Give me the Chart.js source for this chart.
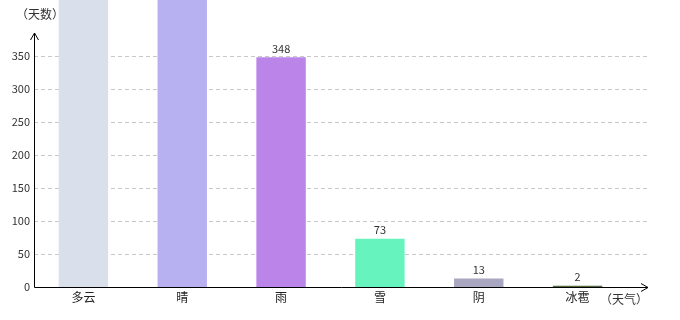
<!DOCTYPE html>
<html>
<head>
<meta charset="utf-8">
<script src="https://cdn.jsdelivr.net/npm/chart.js@4/dist/chart.umd.min.js"></script>
<style>
  html, body { margin: 0; padding: 0; background: #fff; }
  #wrap { width: 680px; height: 320px; }
</style>
</head>
<body>
<div id="wrap"><canvas id="weatherBar" width="680" height="320"></canvas></div>
<script>
// weather type -> number of days
const categories = ["多云", "晴", "雨", "雪", "阴", "冰雹"];
const days = [620, 700, 348, 73, 13, 2];
const barColors = ["#d9dfeb", "#b8b1f1", "#bb84e8", "#66f3bd", "#a9a6c1", "#516a3e"];
const yTicks = [0, 50, 100, 150, 200, 250, 300, 350];
const yMax = 380;

const FONT = "'Noto Sans CJK SC', 'DejaVu Sans', sans-serif";

// dashed grid behind bars, reaching out to the arrow
const gridLines = {
    id: "gridLines",
    beforeDatasetsDraw(chart) {
        const { ctx, scales: { y }, chartArea } = chart;
        ctx.save();
        ctx.strokeStyle = "#c8c8c8";
        ctx.lineWidth = 1;
        ctx.setLineDash([4, 3]);
        yTicks.forEach((v) => {
            if (v === 0) return;
            const py = Math.round(y.getPixelForValue(v)) + 0.5;
            ctx.beginPath();
            ctx.moveTo(chartArea.left, py);
            ctx.lineTo(648, py);
            ctx.stroke();
        });
        ctx.restore();
    },
};

// axis lines with arrows, value labels and axis names
const decorations = {
    id: "decorations",
    afterDraw(chart) {
        const { ctx, scales: { y }, chartArea } = chart;
        const x0 = Math.round(chartArea.left) + 0.5;
        const y0 = Math.round(y.getPixelForValue(0)) + 0.5;
        ctx.save();
        ctx.strokeStyle = "#000";
        ctx.lineWidth = 1;
        ctx.beginPath();
        ctx.moveTo(x0, y0);
        ctx.lineTo(x0, 33);
        ctx.moveTo(x0 - 4, 40);
        ctx.lineTo(x0, 33);
        ctx.lineTo(x0 + 4, 40);
        ctx.moveTo(x0, y0);
        ctx.lineTo(648, y0);
        ctx.moveTo(641, y0 - 4);
        ctx.lineTo(648, y0);
        ctx.lineTo(641, y0 + 4);
        ctx.stroke();

        ctx.fillStyle = "#333";
        ctx.font = "11px " + FONT;
        ctx.textAlign = "center";
        ctx.textBaseline = "bottom";
        const meta = chart.getDatasetMeta(0);
        meta.data.forEach((bar, i) => {
            ctx.fillText(String(days[i]), bar.x, bar.y - 3);
        });

        ctx.font = "12px " + FONT;
        ctx.textBaseline = "middle";
        ctx.fillText("（天数）", 40, 14);
        ctx.fillText("（天气）", 624, 299);
        ctx.restore();
    },
};

new Chart(document.getElementById("weatherBar"), {
    type: "bar",
    data: {
        labels: categories,
        datasets: [
            {
                label: "天数",
                data: days,
                backgroundColor: barColors,
                barPercentage: 0.5,
                categoryPercentage: 1,
                clip: false,
            },
        ],
    },
    options: {
        responsive: false,
        animation: false,
        layout: { padding: { top: 36, right: 53, left: 0, bottom: 0 } },
        plugins: {
            legend: { display: false },
            tooltip: { enabled: false },
        },
        scales: {
            x: {
                grid: { display: false, drawTicks: false },
                border: { display: false },
                ticks: { color: "#222", font: { size: 12, family: FONT }, padding: 3 },
                afterFit(scale) { scale.height = 33; },
            },
            y: {
                min: 0,
                max: yMax,
                grid: { display: false, drawTicks: false },
                border: { display: false },
                afterBuildTicks(scale) { scale.ticks = yTicks.map((v) => ({ value: v })); },
                ticks: { color: "#333", font: { size: 11, family: FONT }, padding: 4 },
                afterFit(scale) { scale.width = 34; },
            },
        },
    },
    plugins: [gridLines, decorations],
});
</script>
</body>
</html>
